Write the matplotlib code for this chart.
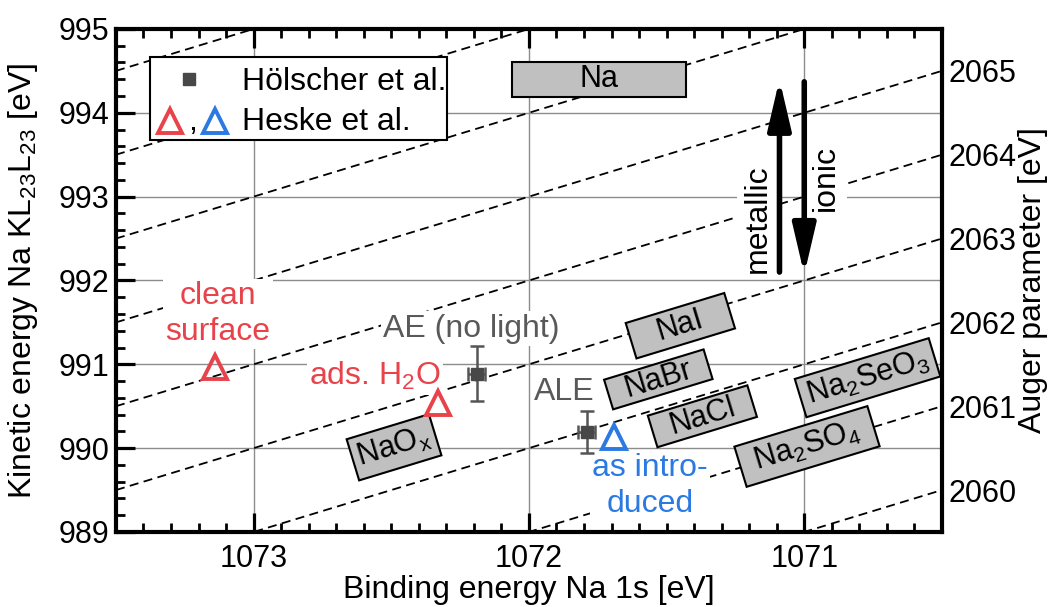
import numpy as np
import matplotlib
matplotlib.use('Agg')
import matplotlib.pyplot as plt
from matplotlib import transforms as mtransforms
from matplotlib.patches import Rectangle
from matplotlib.ticker import MultipleLocator

plt.rcParams['font.family'] = ['Liberation Sans', 'DejaVu Sans']
plt.rcParams['mathtext.fontset'] = 'custom'
plt.rcParams['mathtext.rm'] = 'Liberation Sans'
plt.rcParams['mathtext.it'] = 'Liberation Sans:italic'
plt.rcParams['mathtext.bf'] = 'Liberation Sans:bold'

# Hoelscher et al. (square markers with error bars)
hoel_labels = ['AE (no light)', 'ALE']
hoel_be = [1072.19, 1071.79]
hoel_ke = [990.89, 990.19]
hoel_be_err = [0.03, 0.03]
hoel_ke_err = [0.33, 0.25]

# Heske et al. (open triangles)
heske_labels = ['clean\nsurface', 'ads. H$_2$O', 'as intro-\nduced']
heske_be = [1073.14, 1072.33, 1071.69]
heske_ke = [990.97, 990.54, 990.13]

# reference compounds (box centres)
ref_names = ['NaO$_\\mathrm{x}$', 'NaI', 'NaBr', 'NaCl',
             'Na$_2$SeO$_3$', 'Na$_2$SO$_4$']
ref_be = [1072.49, 1071.45, 1071.53, 1071.37, 1070.77, 1070.99]
ref_ke = [990.01, 991.46, 990.82, 990.38, 990.84, 990.02]

# metallic Na range
na_be = [1072.06, 1071.43]
na_ke = [994.19, 994.61]

# lines of constant Auger parameter (KE + BE)
auger_values = np.arange(2060, 2069)
auger_ticks = [2060, 2061, 2062, 2063, 2064, 2065]

red = '#e8434a'
blue = '#2a7ae2'
grey_txt = '#595959'
fs = 23

fig = plt.figure(figsize=(10.6, 6.07), dpi=100)
ax = fig.add_axes([0.1094, 0.1236, 0.7792, 0.8287])
ax.set_xlim(1073.5, 1070.5)
ax.set_ylim(989, 995)
ax.set_xticks([1073, 1072, 1071])
ax.set_yticks(range(989, 996))
ax.xaxis.set_minor_locator(MultipleLocator(0.1))
ax.yaxis.set_minor_locator(MultipleLocator(0.2))
ax.set_axisbelow(True)
ax.grid(True, which='major', color='#8c8c8c', lw=1.0)
ax.tick_params(which='both', direction='in', top=True, right=True)
ax.tick_params(which='major', length=14, width=2.3, labelsize=22)
ax.tick_params(axis='x', which='major', pad=9)
ax.tick_params(axis='y', which='major', pad=5)
ax.tick_params(which='minor', length=6.5, width=2)
for s in ax.spines.values():
    s.set_linewidth(3)

# dashed iso-Auger-parameter lines
be_span = np.array(ax.get_xlim())
for a in auger_values:
    ax.plot(be_span, a - be_span, ls=(0, (5, 3)), color='black', lw=1.3,
            zorder=1)

# angle of those lines on screen
p0 = ax.transData.transform((1073, 990))
p1 = ax.transData.transform((1072, 991))
ang = np.degrees(np.arctan2(p1[1] - p0[1], p1[0] - p0[0]))

# compound boxes, sizes in pixels
box_size = [(86, 43), (103, 37), (104, 31), (104, 33), (140, 40), (139, 42)]
for name, be, ke, (w, h) in zip(ref_names, ref_be, ref_ke, box_size):
    tr = (mtransforms.Affine2D().rotate_deg(ang)
          + mtransforms.ScaledTranslation(be, ke, ax.transData))
    ax.add_patch(Rectangle((-w / 2, -h / 2), w, h, transform=tr,
                           fc='#c0c0c0', ec='black', lw=1.5, zorder=3))
    ax.text(be, ke, name, rotation=ang, rotation_mode='anchor',
            ha='center', va='center', fontsize=22, zorder=4)

ax.add_patch(Rectangle((na_be[0], na_ke[0]), na_be[1] - na_be[0],
                       na_ke[1] - na_ke[0], fc='#c0c0c0', ec='black',
                       lw=1.5, zorder=3))
ax.text(np.mean(na_be), np.mean(na_ke), 'Na', ha='center', va='center',
        fontsize=22, zorder=4)

# data points
ax.errorbar(hoel_be, hoel_ke, xerr=hoel_be_err, yerr=hoel_ke_err, fmt='s',
            ms=9, color='#484848', ecolor='#555555', elinewidth=1.8,
            capsize=5, capthick=1.8, zorder=5)
heske_colors = [red, red, blue]
for be, ke, c in zip(heske_be, heske_ke, heske_colors):
    ax.plot(be, ke, marker='^', ms=17, mfc='none', mec=c, mew=2.8, zorder=5)

# labels with white background (multi-line ones sit on their last baseline)
wbox = dict(fc='white', ec='none', pad=1.5)
ax.text(1072.21, 991.33, hoel_labels[0], color=grey_txt, fontsize=fs,
        ha='center', va='baseline', bbox=wbox, zorder=2)
ax.text(1071.87, 990.57, hoel_labels[1], color=grey_txt, fontsize=fs,
        ha='center', va='baseline', bbox=wbox, zorder=2)
ax.text(1073.13, 991.29, heske_labels[0], color=red, fontsize=fs,
        ha='center', va='baseline', linespacing=1.25, bbox=wbox, zorder=2)
ax.text(1072.32, 990.75, heske_labels[1], color=red, fontsize=fs,
        ha='right', va='baseline', bbox=wbox, zorder=2)
ax.text(1071.56, 989.24, heske_labels[2], color=blue, fontsize=fs,
        ha='center', va='baseline', linespacing=1.25, bbox=wbox, zorder=2)

# metallic / ionic arrows
abox = dict(fc='white', ec='none', pad=4)
ax.text(1071.17, 992.74, 'metallic', rotation=90, fontsize=fs,
        ha='center', va='center', bbox=abox, zorder=2)
ax.text(1070.92, 993.22, 'ionic', rotation=90, fontsize=fs,
        ha='center', va='center', bbox=abox, zorder=2)
arrow = dict(arrowstyle='-|>,head_length=1.5,head_width=0.35', lw=4,
             color='black', shrinkA=0, shrinkB=0, mutation_scale=20)
ax.annotate('', xy=(1071.09, 994.40), xytext=(1071.09, 992.10),
            arrowprops=arrow, zorder=4)
ax.annotate('', xy=(1071.00, 992.07), xytext=(1071.00, 994.37),
            arrowprops=arrow, zorder=4)

# legend drawn by hand
ax.add_patch(Rectangle((0.041, 0.779), 0.360, 0.165, transform=ax.transAxes,
                       fc='white', ec='black', lw=1.5, zorder=6))
ax.plot(0.088, 0.901, 's', ms=9, color='#484848', transform=ax.transAxes,
        zorder=7)
ax.plot(0.065, 0.817, '^', ms=17, mfc='none', mec=red, mew=2.8,
        transform=ax.transAxes, zorder=7)
ax.plot(0.120, 0.817, '^', ms=17, mfc='none', mec=blue, mew=2.8,
        transform=ax.transAxes, zorder=7)
ax.text(0.093, 0.799, ',', fontsize=fs, ha='center', va='baseline',
        transform=ax.transAxes, zorder=7)
ax.text(0.153, 0.879, 'Hölscher et al.', fontsize=fs, va='baseline',
        transform=ax.transAxes, zorder=7)
ax.text(0.153, 0.799, 'Heske et al.', fontsize=fs, va='baseline',
        transform=ax.transAxes, zorder=7)

ax.set_xlabel('Binding energy Na 1s [eV]', fontsize=fs)
ax.set_ylabel('Kinetic energy Na KL$_{23}$L$_{23}$ [eV]', fontsize=fs)
ax.xaxis.set_label_coords(0.5, -0.085)
ax.yaxis.set_label_coords(-0.092, 0.5)

# Auger parameter scale on the right, taken at the right-hand BE limit
ax2 = ax.twinx()
be_right = ax.get_xlim()[1]
ax2.set_ylim(ax.get_ylim()[0] + be_right, ax.get_ylim()[1] + be_right)
ax2.set_yticks(auger_ticks)
ax2.tick_params(axis='y', length=0, labelsize=22, pad=5)
for s in ax2.spines.values():
    s.set_visible(False)
ax2.set_ylabel('Auger parameter [eV]', fontsize=fs)
ax2.yaxis.set_label_coords(1.092, 0.5)

fig.savefig('out.png', dpi=100)
